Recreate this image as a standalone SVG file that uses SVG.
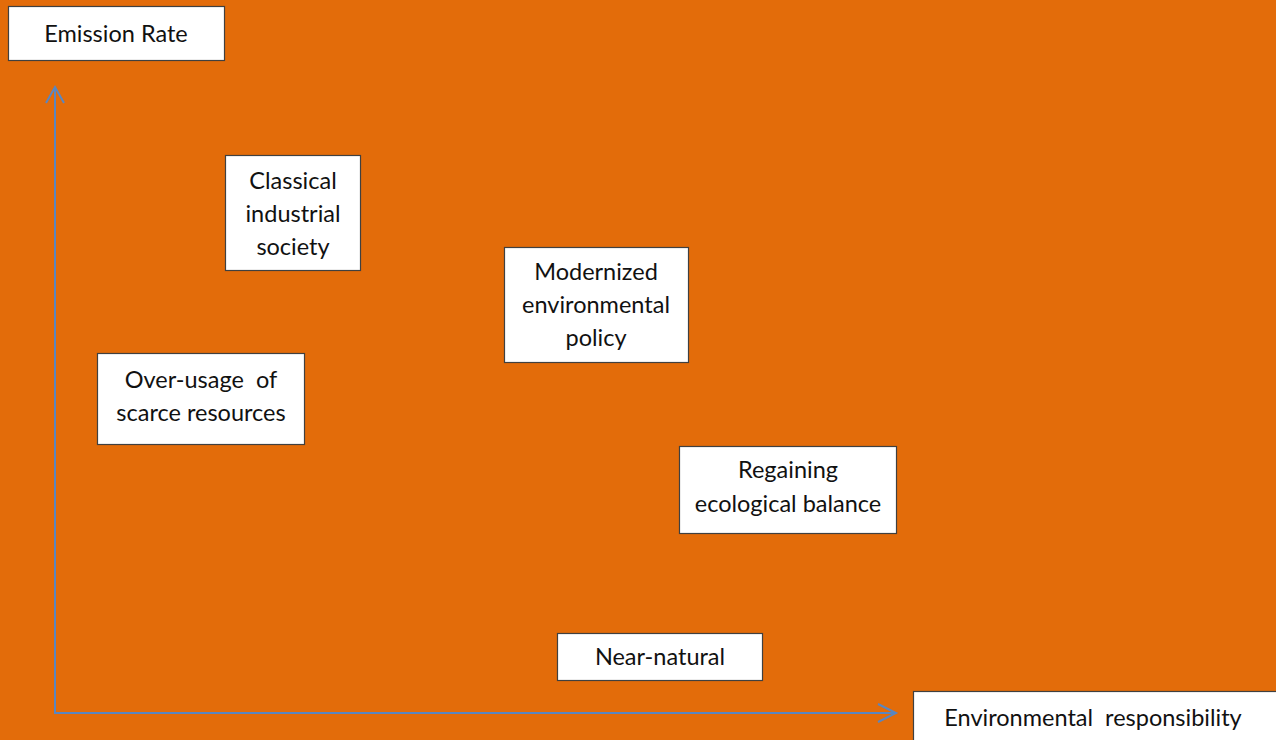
<svg xmlns="http://www.w3.org/2000/svg" width="1276" height="740" viewBox="0 0 1276 740">
<style>
.box{fill:#ffffff;stroke:#404040;stroke-width:1.2}
.t{font-family:Lato,"Open Sans","Liberation Sans",sans-serif;font-size:23.5px;fill:#111;text-anchor:middle}
.ax{fill:none;stroke:#5a86c0;stroke-width:2}
</style>
<rect x="0" y="0" width="1276" height="740" fill="#e36c0a"/>
<g id="connectors">
<polyline class="ax" points="55,88 55,713 895,713"/>
<polyline class="ax" points="46,103 55,87 64,103"/>
<polyline class="ax" points="878,704 896,713 878,722"/>
</g>
<g id="emission-rate">
<rect class="box" x="8.5" y="6.5" width="216" height="54"/>
<text class="t" x="116" y="42">Emission Rate</text>
</g>
<g id="classical">
<rect class="box" x="225.5" y="155.5" width="135" height="115"/>
<text class="t" x="293" y="189">Classical</text>
<text class="t" x="293" y="222">industrial</text>
<text class="t" x="293" y="255">society</text>
</g>
<g id="modernized">
<rect class="box" x="504.5" y="247.5" width="184" height="115"/>
<text class="t" x="596" y="280">Modernized</text>
<text class="t" x="596" y="313">environmental</text>
<text class="t" x="596" y="346">policy</text>
</g>
<g id="over-usage">
<rect class="box" x="97.5" y="353.5" width="207" height="91"/>
<text class="t" x="201" y="388" xml:space="preserve">Over-usage  of</text>
<text class="t" x="201" y="421">scarce resources</text>
</g>
<g id="regaining">
<rect class="box" x="679.5" y="446.5" width="217" height="87"/>
<text class="t" x="788" y="478">Regaining</text>
<text class="t" x="788" y="512">ecological balance</text>
</g>
<g id="near-natural">
<rect class="box" x="557.5" y="633.5" width="205" height="47"/>
<text class="t" x="660" y="665">Near-natural</text>
</g>
<g id="environmental-responsibility">
<rect class="box" x="913.5" y="691.5" width="364" height="52"/>
<text class="t" x="1093" y="726" xml:space="preserve">Environmental  responsibility</text>
</g>
</svg>
